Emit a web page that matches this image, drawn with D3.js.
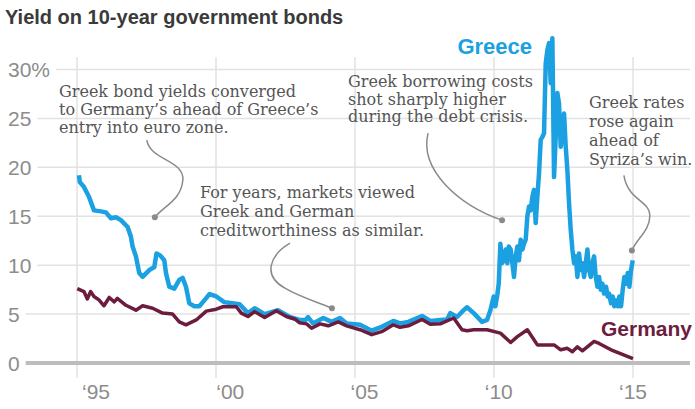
<!DOCTYPE html>
<html>
<head>
<meta charset="utf-8">
<script src="https://cdnjs.cloudflare.com/ajax/libs/d3/7.8.5/d3.min.js"></script>
<style>
  body { margin: 0; background: #fff; }
  svg text { font-family: "Liberation Sans", Arial, sans-serif; }
  .note text { font-family: "DejaVu Serif", serif; font-size: 16px; fill: #555; }
</style>
</head>
<body>
<div class="chart"></div>
<script>

// data (decimal year, % yield)
var greeceYears = [1995.07,1995.10,1995.25,1995.43,1995.61,1995.86,1996.04,1996.22,1996.40,1996.58,1996.82,1996.94,1997.00,1997.12,1997.24,1997.36,1997.60,1997.78,1997.86,1997.99,1998.14,1998.20,1998.32,1998.50,1998.68,1998.80,1998.92,1999.04,1999.22,1999.40,1999.58,1999.77,2000.01,2000.31,2000.85,2001.15,2001.39,2001.75,2002.23,2002.65,2003.01,2003.23,2003.31,2003.49,2003.86,2004.16,2004.46,2004.70,2005.18,2005.60,2005.96,2006.38,2006.62,2006.92,2007.41,2007.71,2008.07,2008.31,2008.43,2008.67,2008.91,2009.03,2009.27,2009.57,2009.75,2009.87,2009.99,2010.05,2010.12,2010.17,2010.23,2010.29,2010.35,2010.42,2010.48,2010.53,2010.60,2010.66,2010.72,2010.78,2010.84,2010.90,2010.96,2011.02,2011.08,2011.14,2011.20,2011.26,2011.32,2011.38,2011.44,2011.50,2011.56,2011.62,2011.68,2011.74,2011.80,2011.86,2011.92,2011.98,2012.04,2012.10,2012.16,2012.22,2012.28,2012.34,2012.40,2012.46,2012.52,2012.58,2012.64,2012.70,2012.76,2012.82,2012.88,2012.94,2013.00,2013.06,2013.12,2013.18,2013.24,2013.30,2013.36,2013.42,2013.48,2013.54,2013.60,2013.66,2013.72,2013.78,2013.84,2013.90,2013.96,2014.03,2014.09,2014.14,2014.21,2014.27,2014.33,2014.39,2014.45,2014.51,2014.57,2014.63,2014.69,2014.75,2014.81,2014.87,2014.93,2014.99];
var greeceValues = [19.2,18.5,18.0,17.0,15.6,15.5,15.4,14.8,14.9,14.6,13.9,12.9,11.9,10.9,9.2,8.8,9.5,9.8,11.2,11.0,10.5,9.2,7.8,7.6,8.5,8.7,7.8,6.1,5.8,5.8,6.4,7.05,6.8,6.2,6.0,5.1,5.6,5.0,5.4,4.7,4.4,4.4,4.7,4.05,4.6,4.2,4.6,4.05,3.9,3.3,3.7,4.3,4.05,4.2,4.8,4.3,4.4,4.45,5.1,4.7,5.4,5.7,5.1,4.2,4.4,5.4,6.8,5.8,7.0,8.1,12.2,10.2,10.5,11.6,10.2,11.9,11.6,10.2,8.8,10.9,11.9,10.5,12.6,11.6,12.2,12.6,15.0,16.0,15.6,17.0,17.7,14.3,17.0,19.4,22.8,23.1,23.5,30.6,32.0,32.7,28.6,33.2,19.0,23.1,27.6,26.5,22.1,23.8,25.5,22.1,19.7,16.3,13.6,11.6,10.2,10.9,8.8,11.2,9.5,10.2,8.8,10.2,11.6,9.5,8.8,10.2,10.9,8.8,7.8,8.8,7.5,8.1,7.1,7.8,6.8,7.1,6.1,6.8,5.8,6.4,5.8,6.8,5.8,7.5,8.8,8.1,9.2,7.8,9.5,10.5];

var germanyYears = [1995.01,1995.25,1995.37,1995.49,1995.61,1995.79,1995.97,1996.16,1996.34,1996.45,1996.76,1997.12,1997.36,1997.72,1998.08,1998.44,1998.68,1998.92,1999.29,1999.65,2000.01,2000.25,2000.73,2000.91,2001.15,2001.39,2001.75,2002.17,2002.53,2002.83,2003.01,2003.26,2003.44,2003.74,2004.04,2004.40,2004.70,2005.18,2005.60,2005.96,2006.38,2006.62,2006.92,2007.41,2007.71,2008.07,2008.55,2008.85,2009.03,2009.27,2009.75,2010.23,2010.60,2010.84,2011.20,2011.56,2012.16,2012.40,2012.64,2012.82,2013.00,2013.18,2013.60,2013.78,2014.21,2015.00];
var germanyValues = [7.6,7.3,6.55,7.3,6.8,6.45,5.85,6.7,6.25,6.6,5.9,5.4,5.85,5.6,5.1,5.0,4.2,3.9,4.4,5.3,5.5,5.75,5.75,5.1,4.75,5.25,4.65,5.35,4.75,4.5,4.1,4.0,3.55,4.0,3.8,4.2,3.8,3.4,2.9,3.2,3.9,3.65,3.8,4.45,3.95,4.0,4.6,3.4,3.3,3.4,3.4,3.05,2.1,2.7,3.4,1.85,1.85,1.35,1.5,1.15,1.65,1.25,2.2,2.0,1.35,0.45];

var yTicks = [0, 5, 10, 15, 20, 25, 30];
var xTicks = [1995, 2000, 2005, 2010, 2015];
var xTickLabels = ["‘95", "‘00", "‘05", "‘10", "‘15"];

var notes = [
  {year: 1997.8, value: 14.9, lines: ["Greek bond yields converged", "to Germany’s ahead of Greece’s", "entry into euro zone."]},
  {year: 2004.17, value: 5.6, lines: ["For years, markets viewed", "Greek and German", "creditworthiness as similar."]},
  {year: 2010.29, value: 14.6, lines: ["Greek borrowing costs", "shot sharply higher", "during the debt crisis."]},
  {year: 2014.96, value: 11.5, lines: ["Greek rates", "rose again", "ahead of", "Syriza’s win."]}
];

var width = 695, height = 409;

var svg = d3.select(".chart").append("svg")
    .attr("width", width)
    .attr("height", height);

var x = d3.scaleLinear().domain([1995, 2015]).range([77, 633]);
var y = d3.scaleLinear().domain([0, 30]).range([363, 69.5]);
// tick labels sit on their own slightly tighter spacing
var xLabel = d3.scaleLinear().domain([1995, 2015]).range([96, 633]);

// title
svg.append("text")
  .attr("x", 5).attr("y", 24)
  .attr("font-size", 20).attr("font-weight", "bold")
  .attr("fill", "#3a3a3a")
  .text("Yield on 10-year government bonds");

// vertical grid
svg.selectAll(".vgrid").data(xTicks).enter().append("line")
  .attr("class", "vgrid")
  .attr("x1", function(d) { return x(d); })
  .attr("x2", function(d) { return x(d); })
  .attr("y1", 57).attr("y2", 378)
  .attr("stroke", "#e2e2e2").attr("stroke-width", 1.5);

// y labels + horizontal grid starting after each label
var yl = svg.selectAll(".ylab").data(yTicks).enter().append("g").attr("class", "ylab");
yl.append("text")
  .attr("x", 8)
  .attr("y", function(d) { return y(d); })
  .attr("dy", "0.36em")
  .attr("font-size", 21)
  .attr("fill", "#8c8c8c")
  .text(function(d) { return d === 30 ? "30%" : d; });
yl.each(function(d) {
  var w = d3.select(this).select("text").node().getComputedTextLength();
  d3.select(this).insert("line", "text")
    .attr("x1", 8 + w + 6).attr("x2", 690)
    .attr("y1", y(d)).attr("y2", y(d))
    .attr("stroke", d === 0 ? "#bdbdbd" : "#e2e2e2")
    .attr("stroke-width", d === 0 ? 4 : 1.5);
});

// x labels
svg.selectAll(".xlab").data(xTicks).enter().append("text")
  .attr("class", "xlab")
  .attr("x", function(d) { return xLabel(d); })
  .attr("y", 399)
  .attr("text-anchor", "middle")
  .attr("font-size", 21)
  .attr("fill", "#8c8c8c")
  .text(function(d, i) { return xTickLabels[i]; });

// annotations
var leaders = [
  function(px, py) { return "M" + (px - 8) + "," + (py - 77) + " C" + (px - 5) + "," + (py - 57) + " " + (px + 30) + "," + (py - 57) + " " + (px + 28) + "," + (py - 37) + " C" + (px + 26) + "," + (py - 17) + " " + (px + 10) + "," + (py - 12) + " " + px + "," + py; },
  function(px, py) { return "M" + (px - 42) + "," + (py - 65) + " C" + (px - 62) + "," + (py - 53) + " " + (px - 70) + "," + (py - 33) + " " + (px - 47) + "," + (py - 20) + " C" + (px - 32) + "," + (py - 11) + " " + (px - 14) + "," + (py - 6) + " " + px + "," + py; },
  function(px, py) { return "M" + (px - 74) + "," + (py - 87) + " C" + (px - 83) + "," + (py - 50) + " " + (px - 43) + "," + (py - 15) + " " + px + "," + py; },
  function(px, py) { return "M" + (px - 8) + "," + (py - 75) + " C" + (px - 4) + "," + (py - 50) + " " + (px + 18) + "," + (py - 50) + " " + (px + 18) + "," + (py - 35) + " C" + (px + 18) + "," + (py - 20) + " " + (px + 5) + "," + (py - 12) + " " + px + "," + py; }
];
var notePos = [[59, 97], [200, 198], [348, 87], [589, 108]];
var lineH = [17.8, 19, 17.5, 19];

notes.forEach(function(n, i) {
  var g = svg.append("g").attr("class", "note");
  var px = x(n.year), py = y(n.value);
  g.append("path")
    .attr("d", leaders[i](px, py))
    .attr("fill", "none").attr("stroke", "#8a8a8a").attr("stroke-width", 1.5);
  g.append("circle").attr("cx", px).attr("cy", py).attr("r", 3).attr("fill", "#8a8a8a");
  var t = g.append("text").attr("x", notePos[i][0]).attr("y", notePos[i][1]);
  n.lines.forEach(function(l, j) {
    t.append("tspan").attr("x", notePos[i][0]).attr("y", notePos[i][1] + j * lineH[i]).text(l);
  });
});

// lines
var line = d3.line()
  .x(function(d) { return x(d[0]); })
  .y(function(d) { return y(d[1]); });

var greece = d3.zip(greeceYears, greeceValues);
var germany = d3.zip(germanyYears, germanyValues);

svg.append("path").datum(greece)
  .attr("d", line)
  .attr("fill", "none").attr("stroke", "#1ba1e2")
  .attr("stroke-width", 4.5).attr("stroke-linejoin", "round");

svg.append("path").datum(germany)
  .attr("d", line)
  .attr("fill", "none").attr("stroke", "#6c1d3e")
  .attr("stroke-width", 3.5).attr("stroke-linejoin", "round");

// series labels
svg.append("text")
  .attr("x", 532).attr("y", 54)
  .attr("text-anchor", "end")
  .attr("font-size", 22).attr("font-weight", "bold")
  .attr("fill", "#1ba1e2")
  .text("Greece");

svg.append("text")
  .attr("x", 692).attr("y", 336)
  .attr("text-anchor", "end")
  .attr("font-size", 21).attr("font-weight", "bold")
  .attr("fill", "#6c1d3e")
  .text("Germany");

</script>
</body>
</html>
